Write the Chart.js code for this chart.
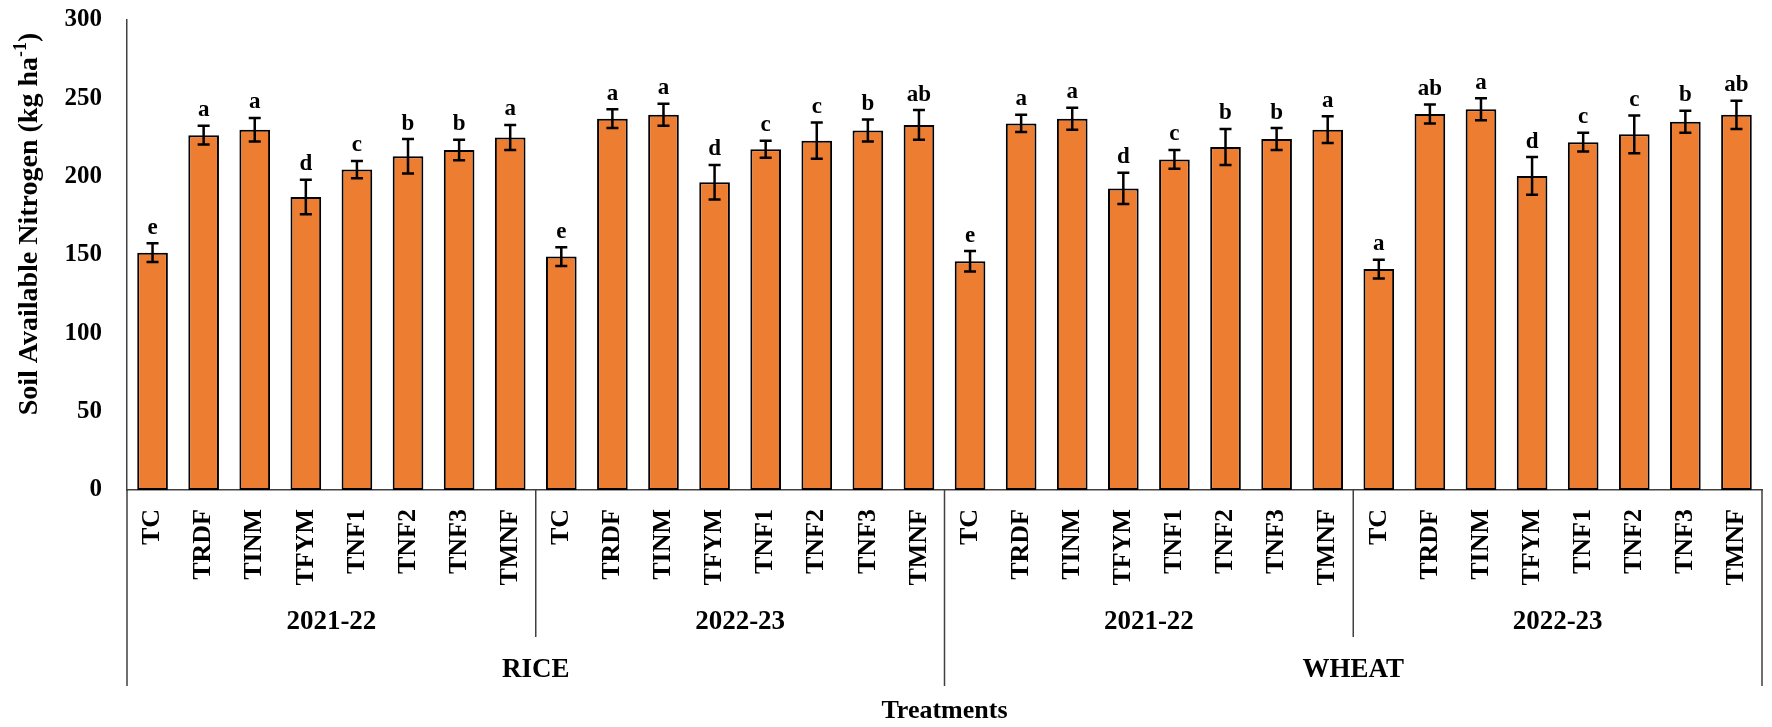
<!DOCTYPE html>
<html>
<head>
<meta charset="utf-8">
<script src="https://cdn.jsdelivr.net/npm/chart.js@4/dist/chart.umd.min.js"></script>
<style>
    html, body { margin: 0; padding: 0; background: #fff; }
    #wrap { width: 1772px; height: 727px; }
</style>
</head>
<body>
<div id="wrap"><canvas id="nitrogenChart"></canvas></div>
<script>
const FONT = '"Liberation Serif", "Times New Roman", serif';

// Categories
const treatments = ['TC', 'TRDF', 'TINM', 'TFYM', 'TNF1', 'TNF2', 'TNF3', 'TMNF'];
const seasons = ['2021-22', '2022-23'];
const crops = ['RICE', 'WHEAT'];

// Soil available N (kg/ha)
const rice2122 = [151.5, 226.5, 230, 187, 204.5, 213, 217, 225];
const rice2223 = [149, 237, 239.5, 196.5, 217.5, 223, 229.5, 233];
const wheat2122 = [146, 234, 237, 192.5, 211, 219, 224, 230];
const wheat2223 = [141, 240, 243, 200.5, 222, 227, 235, 239.5];

// Error bar half-widths
const riceErr2122 = [6, 6, 7.5, 11, 5.5, 11, 6.5, 8];
const riceErr2223 = [6, 6, 7, 11, 5.5, 11.5, 7, 9.5];
const wheatErr2122 = [6.5, 5.5, 7, 10, 6, 11.5, 7, 8.5];
const wheatErr2223 = [6, 6, 7, 12, 6, 12, 7, 9];

// Significance letters
const riceLetters2122 = ['e', 'a', 'a', 'd', 'c', 'b', 'b', 'a'];
const riceLetters2223 = ['e', 'a', 'a', 'd', 'c', 'c', 'b', 'ab'];
const wheatLetters2122 = ['e', 'a', 'a', 'd', 'c', 'b', 'b', 'a'];
const wheatLetters2223 = ['a', 'ab', 'a', 'd', 'c', 'c', 'b', 'ab'];

// y axis ticks
const yMin = 0, yMax = 300, yStep = 50;

const labels = [].concat(treatments, treatments, treatments, treatments);
const values = [].concat(rice2122, rice2223, wheat2122, wheat2223);
const errors = [].concat(riceErr2122, riceErr2223, wheatErr2122, wheatErr2223);
const letters = [].concat(riceLetters2122, riceLetters2223, wheatLetters2122, wheatLetters2223);

// Draw error bars, letters, grouped axis labels and titles
const extras = {
    id: 'extras',
    afterDatasetsDraw(chart) {
        const ctx = chart.ctx;
        const x = chart.scales.x;
        const y = chart.scales.y;
        const area = chart.chartArea;

        ctx.save();
        ctx.strokeStyle = '#000';
        ctx.fillStyle = '#000';
        ctx.lineWidth = 2.5;

        values.forEach((v, i) => {
            const cx = x.getPixelForValue(i);
            const top = y.getPixelForValue(v + errors[i]);
            const bot = y.getPixelForValue(v - errors[i]);
            ctx.beginPath();
            ctx.moveTo(cx, top); ctx.lineTo(cx, bot);
            ctx.moveTo(cx - 6, top); ctx.lineTo(cx + 6, top);
            ctx.moveTo(cx - 6, bot); ctx.lineTo(cx + 6, bot);
            ctx.stroke();

            ctx.font = 'bold 23px ' + FONT;
            ctx.textAlign = 'center';
            ctx.textBaseline = 'bottom';
            ctx.fillText(letters[i], cx, top - 4);
        });

        // group separators and labels
        const half = (x.getPixelForValue(1) - x.getPixelForValue(0)) / 2;
        const edge = i => x.getPixelForValue(i) - half;
        const n = treatments.length;

        ctx.strokeStyle = '#404040';
        ctx.lineWidth = 1.5;
        ctx.beginPath();
        [0, 2 * n, 4 * n].forEach(i => {
            ctx.moveTo(edge(i), area.bottom); ctx.lineTo(edge(i), 686);
        });
        [n, 3 * n].forEach(i => {
            ctx.moveTo(edge(i), area.bottom); ctx.lineTo(edge(i), 637);
        });
        ctx.stroke();

        ctx.fillStyle = '#000';
        ctx.textAlign = 'center';
        ctx.textBaseline = 'middle';
        ctx.font = 'bold 27px ' + FONT;
        crops.forEach((crop, c) => {
            seasons.forEach((s, k) => {
                const g = c * 2 + k;
                ctx.fillText(s, (edge(g * n) + edge((g + 1) * n)) / 2, 622);
            });
            ctx.fillText(crop, (edge(c * 2 * n) + edge((c + 1) * 2 * n)) / 2, 670);
        });

        ctx.font = 'bold 26px ' + FONT;
        ctx.fillText('Treatments', (area.left + area.right) / 2, 711);

        // y title with superscript
        ctx.translate(30, 224);
        ctx.rotate(-Math.PI / 2);
        const main = 'Soil Available Nitrogen (kg ha';
        ctx.font = 'bold 28px ' + FONT;
        const wMain = ctx.measureText(main).width;
        ctx.font = 'bold 18px ' + FONT;
        const wSup = ctx.measureText('-1').width;
        ctx.font = 'bold 28px ' + FONT;
        const wEnd = ctx.measureText(')').width;
        let start = -(wMain + wSup + wEnd) / 2;
        ctx.textAlign = 'left';
        ctx.fillText(main, start, 0);
        ctx.font = 'bold 18px ' + FONT;
        ctx.fillText('-1', start + wMain, -9);
        ctx.font = 'bold 28px ' + FONT;
        ctx.fillText(')', start + wMain + wSup, 0);
        ctx.restore();
    }
};

const ctx = document.getElementById('nitrogenChart').getContext('2d');
new Chart(ctx, {
    type: 'bar',
    data: {
        labels: labels,
        datasets: [{
            data: values,
            backgroundColor: '#ED7D31',
            borderColor: '#000',
            borderWidth: 2,
            borderSkipped: false,
            barPercentage: 0.6,
            categoryPercentage: 1
        }]
    },
    options: {
        responsive: true,
        maintainAspectRatio: false,
        animation: false,
        devicePixelRatio: 1,
        layout: { padding: { top: 20, right: 10, left: 0, bottom: 0 } },
        plugins: {
            legend: { display: false },
            tooltip: { enabled: false }
        },
        scales: {
            x: {
                grid: { display: false, drawTicks: false },
                border: { color: '#404040', width: 1.5 },
                ticks: {
                    autoSkip: false,
                    minRotation: 90,
                    maxRotation: 90,
                    padding: 19,
                    color: '#000',
                    font: { family: FONT, size: 26, weight: 'bold' }
                },
                afterFit(scale) {
                    scale.height = 237;
                    scale.paddingLeft = 0;
                    scale.paddingRight = 0;
                }
            },
            y: {
                min: yMin,
                max: yMax,
                grid: { display: false, drawTicks: false },
                border: { color: '#404040', width: 1.5 },
                ticks: {
                    stepSize: yStep,
                    padding: 25,
                    color: '#000',
                    font: { family: FONT, size: 25, weight: 'bold' }
                },
                afterFit(scale) {
                    scale.width = 127;
                    scale.paddingTop = 0;
                    scale.paddingBottom = 0;
                }
            }
        }
    },
    plugins: [extras]
});
</script>
</body>
</html>
